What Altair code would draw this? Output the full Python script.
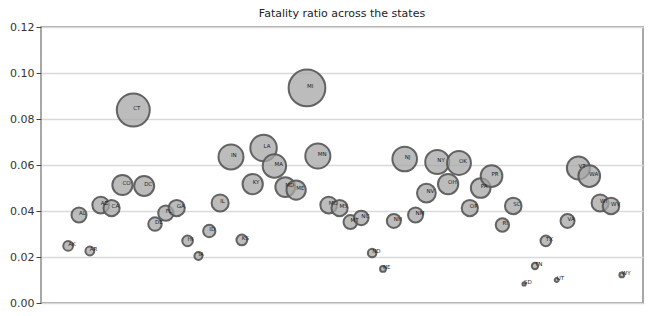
import altair as alt
import pandas as pd

states = ["AK", "AL", "AR", "AZ", "CA", "CO", "CT", "DC", "DE", "FL", "GA",
          "HI", "IA", "ID", "IL", "IN", "KS", "KY", "LA", "MA", "MD", "ME",
          "MI", "MN", "MO", "MS", "MT", "NC", "ND", "NE",
          "NH", "NJ", "NM", "NV", "NY", "OH", "OK", "OR", "PA", "PR", "RI",
          "SC", "SD", "TN", "TX", "UT", "VA", "VT", "WA", "WI", "WV", "WY"]

ratios = [0.0248, 0.0383, 0.0226, 0.0426, 0.0413, 0.0513, 0.0839, 0.0509, 0.0343, 0.0391, 0.0413,
          0.0270, 0.0204, 0.0313, 0.0435, 0.0635, 0.0274, 0.0517, 0.0674, 0.0596, 0.0504, 0.0491,
          0.0935, 0.0639, 0.0426, 0.0413, 0.0352, 0.0370, 0.0217, 0.0148,
          0.0357, 0.0626, 0.0383, 0.0478, 0.0613, 0.0517, 0.0609, 0.0413, 0.0500, 0.0552, 0.0339,
          0.0422, 0.0083, 0.0161, 0.0270, 0.0100, 0.0357, 0.0587, 0.0552, 0.0435, 0.0422, 0.0122]

y_ticks = [0.00, 0.02, 0.04, 0.06, 0.08, 0.10, 0.12]

df = pd.DataFrame({"state": states, "ratio": ratios})

base = alt.Chart(df).transform_window(idx="row_number()").encode(
    x=alt.X("idx:Q", scale=alt.Scale(domain=[-1.5, 53.95], nice=False, zero=False), axis=None),
    y=alt.Y("ratio:Q",
            scale=alt.Scale(domain=[0, 0.12], nice=False, zero=True),
            axis=alt.Axis(values=y_ticks, format=".2f", title=None, grid=True,
                          domain=False, tickSize=5, tickColor="#444",
                          labelFontSize=11, labelColor="#333", labelFont="DejaVu Sans",
                          gridColor="#d9d9d9", gridWidth=1.5)),
)

points = base.mark_circle(fill="#a5a5a5", fillOpacity=0.75, stroke="#555555",
                          strokeWidth=2, strokeOpacity=0.9, opacity=1).encode(
    size=alt.Size("ratio:Q",
                  scale=alt.Scale(type="pow", exponent=2, domain=[0, 0.0935], range=[0, 1350]),
                  legend=None)
)

labels = base.mark_text(align="left", baseline="alphabetic", fontSize=5.5,
                        font="DejaVu Sans", color="#222").encode(text="state:N")

chart = (points + labels).properties(
    width=602, height=276,
    padding={"left": 1, "top": 0, "right": 5, "bottom": 2},
    title=alt.TitleParams("Fatality ratio across the states", fontSize=11,
                          fontWeight="normal", font="DejaVu Sans", color="#222", offset=2),
).configure_view(stroke="#8a8a8a", strokeWidth=1.5)

chart.save("out.html", embed_options={"renderer": "svg", "actions": False})
